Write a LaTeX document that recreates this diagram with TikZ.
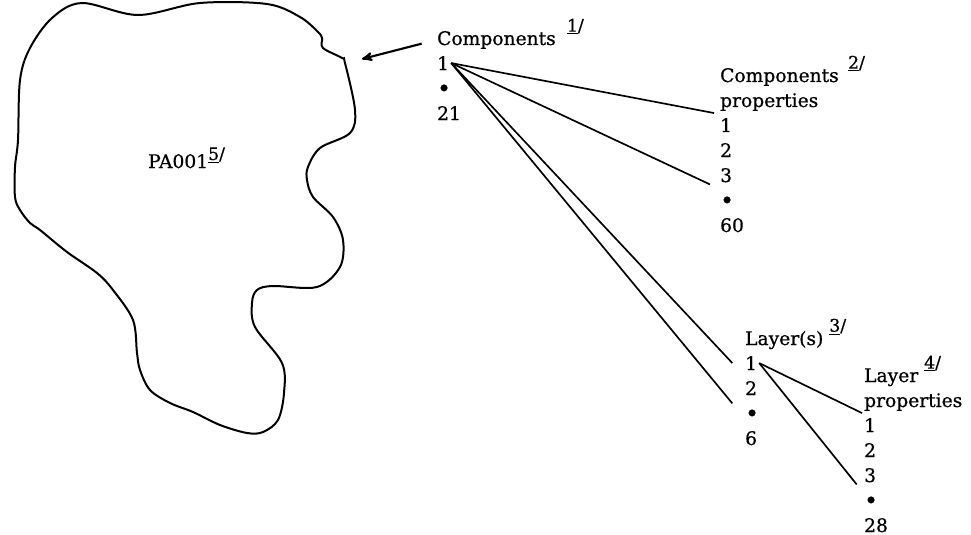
\documentclass[tikz,border=0pt]{standalone}
\usepackage{fontspec}
\setmainfont{DejaVu Serif}[FakeBold=0.7]
\usetikzlibrary{arrows,positioning}
\newcommand{\fnote}[2][10pt]{\raisebox{#1}{\fontsize{13}{13}\selectfont\underline{#2}/}}
\newcommand{\dotitem}{\raisebox{-1.2pt}{\scalebox{1.25}{\textbullet}}}

\begin{document}
\begin{tikzpicture}[x=0.75pt, y=-0.75pt, >=stealth', node distance=18.75pt, line width=1.25pt,
    txt/.style={inner sep=1pt, anchor=base west, font=\fontsize{14}{18.75}\selectfont},
    nxt/.style={txt, below=of #1.base west, anchor=base west}]
    \useasboundingbox (0,0) rectangle (971,535);
    % outline of PA001
    \draw[line width=1.5pt] plot[smooth cycle, tension=0.55] coordinates {
        (82,3) (138,15) (200,3) (267,4) (300,17) (318,32) (322,38) (323,48)
        (342,58) (345,63) (355,110) (350,133) (320,148) (308,167) (307,180)
        (313,197) (333,217) (343,240) (340,267) (317,287) (273,286) (257,290)
        (252,303) (255,327) (282,363) (284,393) (278,420) (263,432) (247,433)
        (220,425) (193,412) (170,403) (150,390) (140,370) (137,353) (133,320)
        (113,290) (97,273) (67,252) (40,230) (30,223) (20,210) (15,197)
        (15,167) (18,140) (20,80) (30,48) (52,18)};
    \node[txt] (pa) at (146,168) {PA001\fnote[6pt]{5}};

    % components
    \node[txt] (c0) at (435,45) {Components\hspace{0.6em}\fnote{1}};
    \node[nxt=c0] (c1) {1};
    \node[nxt=c1] (c2) {\dotitem};
    \node[nxt=c2] (c3) {21};

    % components properties
    \node[txt] (p0) at (718,82) {Components\hspace{0.5em}\fnote{2}};
    \node[nxt=p0] (pp) {properties};
    \node[nxt=pp] (p1) {1};
    \node[nxt=p1] (p2) {2};
    \node[nxt=p2] (p3) {3};
    \node[nxt=p3] (p4) {\dotitem};
    \node[nxt=p4] (p5) {60};

    % layers
    \node[txt] (l0) at (743,345) {Layer(s) \fnote{3}};
    \node[nxt=l0] (l1) {1};
    \node[nxt=l1] (l2) {2};
    \node[nxt=l2] (l3) {\dotitem};
    \node[nxt=l3] (l4) {6};

    % layer properties
    \node[txt] (q0) at (862,382) {Layer \fnote{4}};
    \node[nxt=q0] (qp) {properties};
    \node[nxt=qp] (q1) {1};
    \node[nxt=q1] (q2) {2};
    \node[nxt=q2] (q3) {3};
    \node[nxt=q3] (q4) {\dotitem};
    \node[nxt=q4] (q5) {28};

    \coordinate (tip) at (362,59);
    \draw[->, line width=1.6pt] ([xshift=-10pt,yshift=1pt]c0.base west) -- (tip);
    \draw (c1.east) -- ([xshift=-3pt]pp.south west);
    \draw (c1.east) -- ([xshift=-6pt]p3.south west);
    \draw (c1.east) -- ([xshift=-8pt]l1.west);
    \draw (c1.east) -- ([xshift=-8pt,yshift=3pt]l3.north west);
    \draw (l1.east) -- (qp.south west);
    \draw (l1.east) -- ([xshift=-4pt]q3.south west);
\end{tikzpicture}
\end{document}
